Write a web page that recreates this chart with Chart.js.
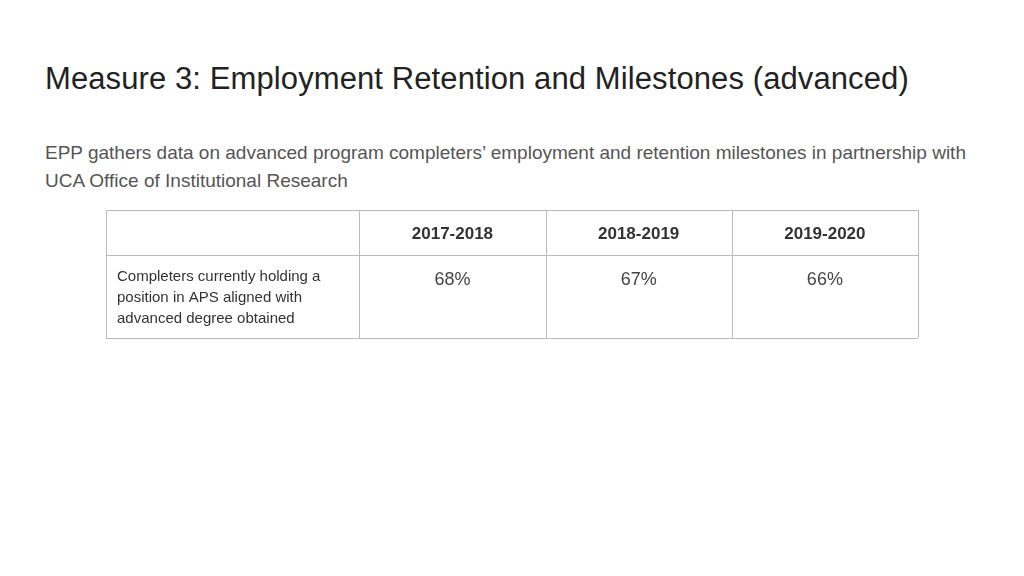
<!DOCTYPE html>
<html><head><meta charset="utf-8">
<script src="https://cdn.jsdelivr.net/npm/chart.js@4"></script>
<style>
body{margin:0;width:1024px;height:576px;background:#fff;font-family:"Liberation Sans",Arial,sans-serif;position:relative;overflow:hidden}
h1{position:absolute;left:45px;top:61px;margin:0;font-weight:normal;font-size:31px;color:#222;letter-spacing:0.1px}
p{position:absolute;left:45px;top:139px;margin:0;font-size:19px;line-height:28px;color:#555;width:935px}
#wrap{position:absolute;left:106px;top:210px;width:813px;height:129px}
</style></head><body>
<h1>Measure 3: Employment Retention and Milestones (advanced)</h1>
<p>EPP gathers data on advanced program completers’ employment and retention milestones in partnership with UCA Office of Institutional Research</p>
<div id="wrap"><canvas id="c"></canvas></div>
<script>
const years = ["2017-2018", "2018-2019", "2019-2020"];
const values = [68, 67, 66];
const rowLabel = ["Completers currently holding a", "position in APS aligned with", "advanced degree obtained"];

// table grid in scale units
const colEdges = [0, 253, 439, 625, 811];
const rowEdges = [0, 45, 127];

const tablePlugin = {
  id: "table",
  afterDraw(chart) {
    const c = chart.ctx, x = chart.scales.x, y = chart.scales.y;
    c.save();
    c.strokeStyle = "#bbb"; c.lineWidth = 1;
    colEdges.forEach(v => { const px = Math.round(x.getPixelForValue(v)) + 0.5;
      c.beginPath(); c.moveTo(px, y.getPixelForValue(0)); c.lineTo(px, y.getPixelForValue(127)); c.stroke(); });
    rowEdges.forEach(v => { const py = Math.round(y.getPixelForValue(v)) + 0.5;
      c.beginPath(); c.moveTo(x.getPixelForValue(0), py); c.lineTo(x.getPixelForValue(811), py); c.stroke(); });
    c.textAlign = "center"; c.textBaseline = "middle";
    years.forEach((yr, i) => {
      const cx = (x.getPixelForValue(colEdges[i + 1]) + x.getPixelForValue(colEdges[i + 2])) / 2;
      c.font = "bold 17px 'Liberation Sans', Arial"; c.fillStyle = "#333";
      c.fillText(yr, cx, y.getPixelForValue(24));
      c.font = "18px 'Liberation Sans', Arial"; c.fillStyle = "#444";
      c.fillText(values[i] + "%", cx, y.getPixelForValue(69));
    });
    c.textAlign = "left"; c.font = "15px 'Liberation Sans', Arial"; c.fillStyle = "#333";
    rowLabel.forEach((t, i) => c.fillText(t, x.getPixelForValue(11), y.getPixelForValue(66 + i * 21)));
    c.restore();
  }
};

new Chart(document.getElementById("c"), {
  type: "bar",
  data: { labels: [], datasets: [] },
  options: {
    responsive: true, maintainAspectRatio: false, animation: false,
    layout: { padding: 0 },
    plugins: { legend: { display: false }, tooltip: { enabled: false } },
    scales: {
      x: { type: "linear", min: 0, max: 812, offset: false, display: false },
      y: { type: "linear", min: 0, max: 128, offset: false, reverse: true, display: false }
    }
  },
  plugins: [tablePlugin]
});
</script>
</body></html>
